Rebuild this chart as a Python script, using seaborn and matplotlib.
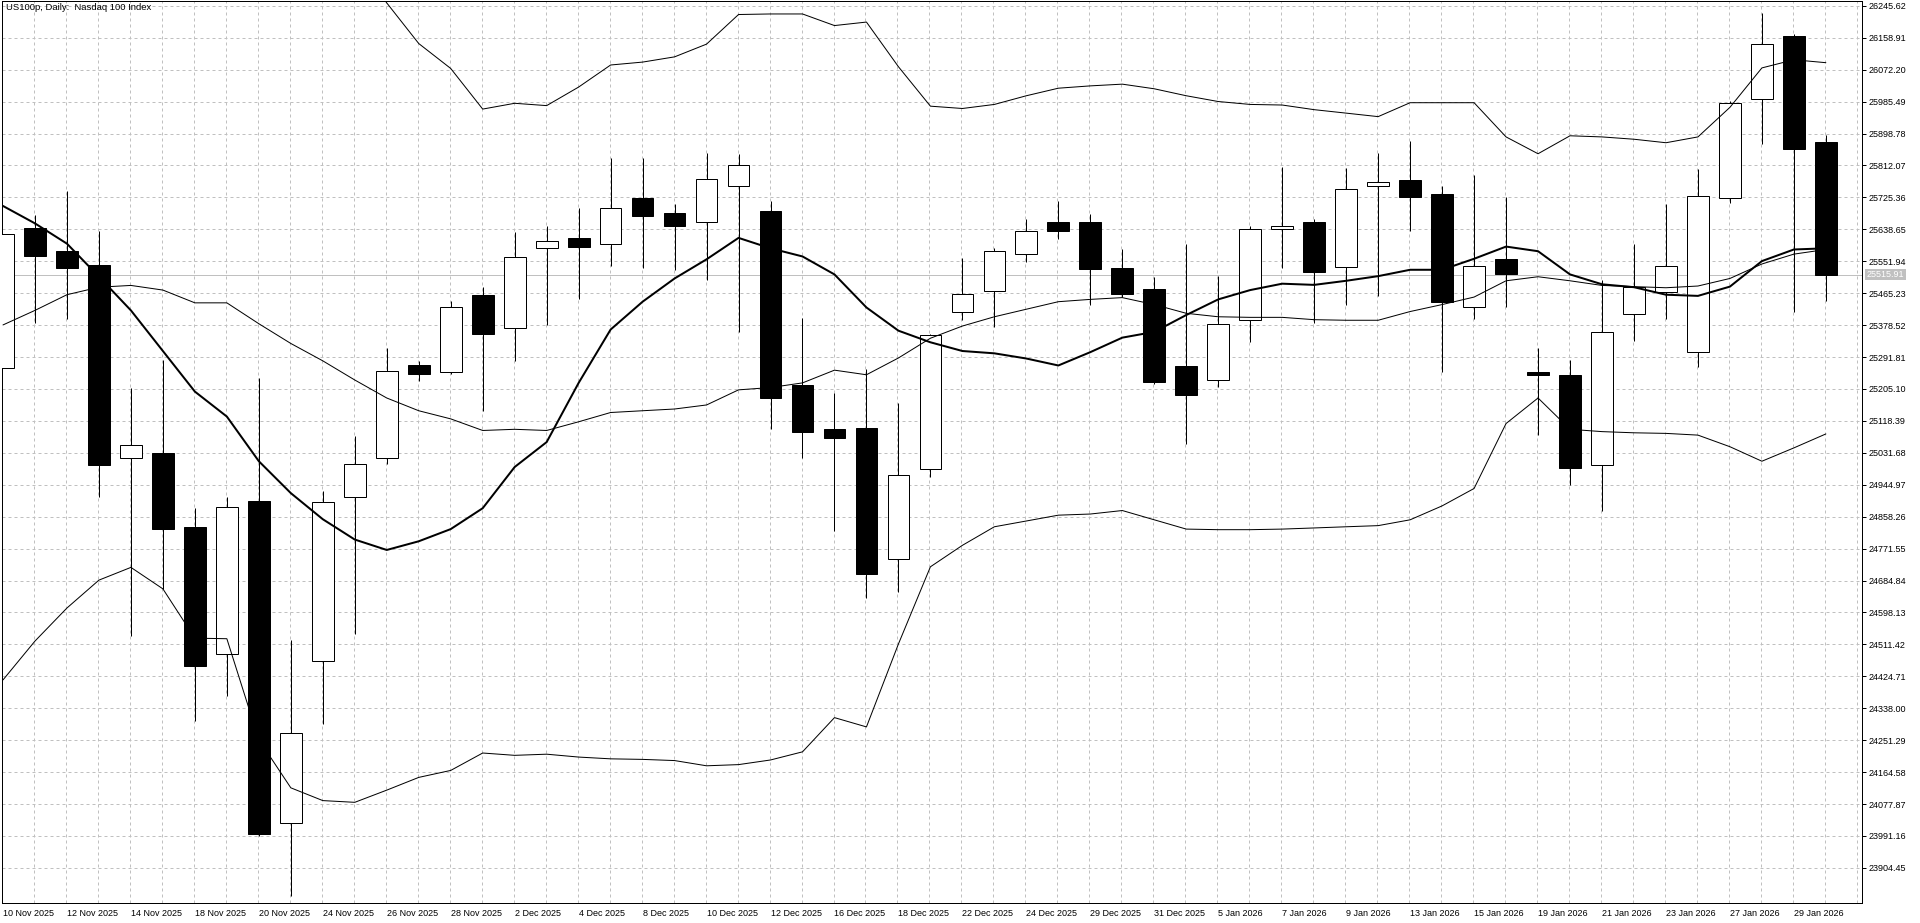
import matplotlib
matplotlib.use("Agg")
import matplotlib.pyplot as plt
import matplotlib.transforms as mtransforms
import numpy as np
import pandas as pd
import seaborn as sns

# candles, one per trading day (10 Nov 2025 .. 30 Jan 2026)
opens = [25262.6, 25642.2, 25580.8, 25541.4, 25016.8, 25031.0, 24830.9, 24484.3, 24901.8, 24027.4,
         24465.4, 24911.2, 25016.8, 25268.9, 25249.9, 25461.1, 25369.7, 25587.1, 25615.4, 25599.7,
         25722.6, 25683.2, 25658.0, 25755.6, 25687.9, 25216.9, 25095.6, 25100.3, 24742.7, 24988.4,
         25413.8, 25470.5, 25572.9, 25659.5, 25658.0, 25533.5, 25476.8, 25267.3, 25229.5, 25393.3,
         25639.1, 25659.5, 25535.1, 25757.2, 25771.4, 25733.6, 25428.0, 25558.7, 25251.5, 25242.1,
         24997.9, 25407.5, 25467.3, 25306.7, 25724.1, 25993.5, 26163.7, 25875.4]
highs = [25624.9, 25678.5, 25741.5, 25634.3, 25209.0, 25284.6, 24882.9, 24912.8, 25235.8, 24523.7,
         24928.6, 25076.7, 25316.1, 25281.5, 25445.3, 25481.5, 25631.2, 25646.9, 25697.4, 25832.8,
         25832.8, 25706.8, 25845.4, 25842.3, 25714.7, 25398.0, 25193.2, 25259.4, 25166.4, 25355.0,
         25560.3, 25588.7, 25665.9, 25714.7, 25680.0, 25583.9, 25509.9, 25599.7, 25511.5, 25646.9,
         25809.2, 25665.9, 25804.5, 25847.0, 25878.5, 25757.2, 25785.6, 25725.7, 25316.1, 25284.6,
         25500.4, 25598.1, 25706.8, 25801.3, 25986.0, 26225.1, 26170.0, 25895.9]
lows = [25262.6, 25385.4, 25394.9, 24912.8, 24534.7, 24660.8, 24303.1, 24370.9, 23990.0, 23827.4,
        24295.3, 24539.4, 25001.0, 25227.9, 25245.0, 25146.0, 25281.5, 25379.1, 25450.0, 25539.8,
        25533.5, 25528.8, 25502.0, 25360.2, 25095.6, 25016.8, 24818.3, 24638.7, 24654.4, 24964.8,
        25391.7, 25372.8, 25549.3, 25612.3, 25434.3, 25454.7, 25218.4, 25056.2, 25210.6, 25331.9,
        25533.5, 25385.4, 25434.3, 25457.9, 25634.3, 25249.9, 25394.9, 25426.4, 25079.8, 24944.3,
        24875.0, 25335.0, 25394.9, 25265.7, 25710.0, 25870.7, 25413.8, 25445.3]
closes = [25624.9, 25565.0, 25533.5, 24997.9, 25053.0, 24824.6, 24452.8, 24884.5, 23995.9, 24270.1,
          24898.6, 25001.0, 25253.1, 25245.2, 25426.4, 25353.9, 25563.5, 25606.0, 25591.8, 25697.4,
          25675.3, 25646.9, 25776.1, 25812.4, 25180.6, 25087.7, 25071.9, 24701.7, 24972.7, 25352.3,
          25464.2, 25579.2, 25632.8, 25632.8, 25530.4, 25462.6, 25224.7, 25188.5, 25380.7, 25639.1,
          25648.5, 25524.1, 25747.8, 25766.7, 25725.7, 25440.6, 25538.2, 25516.2, 25243.7, 24990.0,
          25358.7, 25483.1, 25538.2, 25728.9, 25982.5, 26141.6, 25856.5, 25515.91]

# moving average (thick) and bollinger bands (thin)
ma_line = [25702.1, 25654.8, 25599.7, 25510.0, 25418.5, 25308.2, 25198.0, 25130.2, 25008.9, 24922.3,
           24851.4, 24796.2, 24767.9, 24791.5, 24824.6, 24881.3, 24993.2, 25060.9, 25221.6, 25366.5,
           25442.1, 25505.2, 25557.2, 25615.4, 25587.1, 25565.0, 25516.2, 25426.4, 25363.4, 25331.9,
           25308.2, 25301.9, 25287.8, 25268.9, 25305.1, 25344.5, 25360.2, 25405.9, 25448.4, 25473.7,
           25491.0, 25487.8, 25498.9, 25511.5, 25528.8, 25528.8, 25558.7, 25591.8, 25579.2, 25516.2,
           25489.4, 25481.5, 25461.1, 25457.9, 25483.1, 25552.4, 25583.9, 25587.1]
bb_mid = [25379.0, 25418.5, 25461.1, 25481.5, 25486.3, 25473.7, 25439.0, 25439.0, 25382.3, 25328.7,
          25281.5, 25229.5, 25180.6, 25146.0, 25123.9, 25092.4, 25095.6, 25092.4, 25116.0, 25141.2,
          25146.0, 25150.7, 25161.7, 25202.7, 25209.0, 25221.6, 25256.2, 25243.7, 25289.3, 25342.9,
          25376.0, 25401.2, 25421.7, 25442.1, 25448.4, 25453.2, 25434.3, 25410.6, 25401.2, 25399.6,
          25399.6, 25393.3, 25391.7, 25391.7, 25415.4, 25434.3, 25454.7, 25498.9, 25509.9, 25498.9,
          25486.3, 25483.1, 25480.0, 25484.7, 25505.2, 25544.5, 25571.3, 25583.9]
bb_up = [26340.0, 26320.0, 26310.0, 26285.0, 26270.0, 26290.0, 26350.0, 26355.0, 26510.0, 26540.0,
         26480.0, 26375.0, 26253.5, 26143.2, 26075.5, 25965.2, 25980.9, 25974.6, 26025.0, 26084.9,
         26092.8, 26107.0, 26141.6, 26222.0, 26223.5, 26223.5, 26192.0, 26201.5, 26080.2, 25973.1,
         25966.8, 25977.8, 26001.4, 26021.9, 26028.2, 26032.9, 26020.3, 26001.4, 25985.7, 25977.8,
         25976.2, 25963.6, 25954.2, 25944.7, 25982.5, 25982.5, 25982.5, 25889.6, 25843.9, 25892.7,
         25889.6, 25883.3, 25873.8, 25889.6, 25969.9, 26077.0, 26099.1, 26091.2]
bb_low = [24415.0, 24520.5, 24610.3, 24686.0, 24720.6, 24662.3, 24528.4, 24526.9, 24252.7, 24122.0,
          24087.3, 24082.6, 24115.7, 24150.3, 24169.2, 24216.5, 24210.2, 24213.3, 24205.5, 24200.7,
          24199.2, 24196.0, 24181.8, 24185.0, 24197.6, 24219.7, 24312.6, 24287.4, 24512.7, 24722.2,
          24780.5, 24830.9, 24846.6, 24862.4, 24865.5, 24875.0, 24849.8, 24824.6, 24823.0, 24823.0,
          24824.6, 24827.7, 24830.9, 24834.0, 24849.8, 24887.6, 24934.9, 25111.3, 25180.6, 25095.6,
          25089.3, 25086.1, 25084.5, 25079.8, 25048.3, 25008.9, 25045.1, 25083.0]

date_labels = ["10 Nov 2025", "12 Nov 2025", "14 Nov 2025", "18 Nov 2025", "20 Nov 2025",
               "24 Nov 2025", "26 Nov 2025", "28 Nov 2025", "2 Dec 2025", "4 Dec 2025",
               "8 Dec 2025", "10 Dec 2025", "12 Dec 2025", "16 Dec 2025", "18 Dec 2025",
               "22 Dec 2025", "24 Dec 2025", "29 Dec 2025", "31 Dec 2025", "5 Jan 2026",
               "7 Jan 2026", "9 Jan 2026", "13 Jan 2026", "15 Jan 2026", "19 Jan 2026",
               "21 Jan 2026", "23 Jan 2026", "27 Jan 2026", "29 Jan 2026"]
price_ticks = [23904.45, 23991.16, 24077.87, 24164.58, 24251.29, 24338.00, 24424.71, 24511.42,
               24598.13, 24684.84, 24771.55, 24858.26, 24944.97, 25031.68, 25118.39, 25205.10,
               25291.81, 25378.52, 25465.23, 25551.94, 25638.65, 25725.36, 25812.07, 25898.78,
               25985.49, 26072.20, 26158.91, 26245.62]
last_price = 25515.91
title = "US100p, Daily:  Nasdaq 100 Index"

df = pd.DataFrame({"open": opens, "high": highs, "low": lows, "close": closes,
                   "ma": ma_line, "mid": bb_mid, "up": bb_up, "low_band": bb_low})
df["bar"] = np.arange(len(df))

sns.set_style("white")
plt.rcParams["font.family"] = ["Liberation Sans", "DejaVu Sans"]

W, H = 1920, 923
fig = plt.figure(figsize=(W / 100, H / 100), dpi=100)
ax = fig.add_axes([2 / W, 20 / H, 1860 / W, 902 / H])

px = 0.72  # one pixel in points
grid_kw = dict(color="#c0c0c0", lw=px, linestyle=(0, (3, 3)))

# price line behind the candles
ax.axhline(last_price, color="#c0c0c0", lw=px, zorder=1)

# candles
up = df["close"] >= df["open"]
ax.vlines(df["bar"], df["low"], df["high"], color="black", lw=px, zorder=2)
body_lo = np.minimum(df["open"], df["close"])
body_h = np.maximum(np.abs(df["close"] - df["open"]), 1.0)
ax.bar(df["bar"][up], body_h[up], bottom=body_lo[up], width=0.68,
       facecolor="white", edgecolor="black", lw=px, zorder=3)
ax.bar(df["bar"][~up], body_h[~up], bottom=body_lo[~up], width=0.68,
       facecolor="black", edgecolor="black", lw=px, zorder=3)

# indicators on top
for col, lw in [("up", px), ("mid", px), ("low_band", px), ("ma", 2 * px)]:
    sns.lineplot(data=df, x="bar", y=col, ax=ax, color="black", lw=lw,
                 estimator=None, sort=False, zorder=4)

ax.set_xlim(-0.031, 58.13)
ax.set_ylim(23809.2, 26258.7)

# axes, ticks, grid
ax.set_xticks(np.arange(0, 2 * len(date_labels), 2))
ax.set_xticklabels(date_labels, ha="left", fontsize=6.5)
ax.set_xticks(np.arange(0, 59), minor=True)
ax.yaxis.tick_right()
ax.set_yticks(price_ticks)
ax.set_yticklabels([f"{v:.2f}" for v in price_ticks], fontsize=6.5)
ax.tick_params(axis="both", which="major", direction="out", length=3, width=px,
               color="black", pad=1.5, labelcolor="black")
ax.tick_params(axis="x", which="minor", length=0)
ax.grid(False)
for x in np.arange(0, 59):
    ax.axvline(x - 0.03, zorder=0, **grid_kw)
for y in price_ticks:
    ax.axhline(y, zorder=0, **grid_kw)
ax.set_xlabel("")
ax.set_ylabel("")
for s in ax.spines.values():
    s.set_visible(True)
    s.set_color("black")
    s.set_linewidth(px)

# last price tag on the axis
trans = mtransforms.blended_transform_factory(ax.transAxes, ax.transData)
ax.text(1.0025, last_price, f"{last_price:.2f}", transform=trans, fontsize=6.5,
        color="white", va="center", ha="left", clip_on=False, zorder=6,
        bbox=dict(boxstyle="square,pad=0.15", facecolor="#c0c0c0", edgecolor="none"))

fig.text(6 / W, 1 - 3 / H, title, fontsize=6.8, va="top", ha="left", color="black")

fig.savefig("out.png", dpi=100, facecolor="white")
